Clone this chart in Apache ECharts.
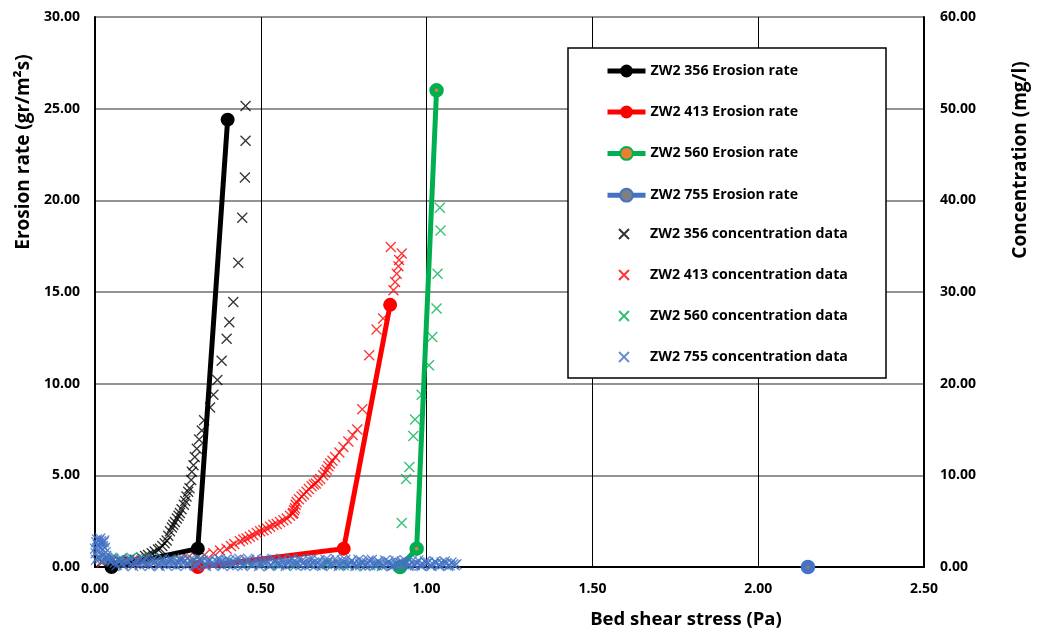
<!DOCTYPE html>
<html><head><meta charset="utf-8">
<script src="https://cdn.jsdelivr.net/npm/echarts@6/dist/echarts.min.js"></script>
<style>html,body{margin:0;padding:0;background:#fff}#c{width:1040px;height:631px}</style>
</head><body><div id="c"></div>
<script>
// ---- data ----
const xTicks = [0, 0.5, 1.0, 1.5, 2.0, 2.5];
const leftTicks = [0, 5, 10, 15, 20, 25, 30];
const rightTicks = [0, 10, 20, 30, 40, 50, 60];

// Erosion rate (gr/m2s) vs bed shear stress (Pa)
const er356 = [[0.05, 0], [0.31, 1.0], [0.40, 24.4]];
const er413 = [[0.31, 0], [0.75, 1.0], [0.89, 14.3]];
const er560 = [[0.92, 0], [0.97, 1.0], [1.03, 26.0]];
const er755 = [[2.15, 0]];

// Concentration data (mg/l) vs bed shear stress (Pa)
const c356 = [[0.02,0.6],[0.04,0.5],[0.06,0.5],[0.08,0.6],[0.10,0.7],[0.12,0.8],[0.14,1.0],[0.151,1.2],[0.16,1.3],[0.171,1.5],[0.18,1.7],[0.19,1.9],[0.196,2.0],[0.203,2.3],[0.21,2.6],[0.216,2.9],[0.221,3.4],[0.226,3.9],[0.232,4.3],[0.236,4.6],[0.241,4.9],[0.247,5.3],[0.252,5.6],[0.256,5.9],[0.261,6.3],[0.268,6.8],[0.272,7.2],[0.276,7.7],[0.281,8.2],[0.285,8.6],[0.29,9.5],[0.292,10.4],[0.297,11.1],[0.301,12.0],[0.307,12.9],[0.314,13.9],[0.322,14.9],[0.329,16.0],[0.347,17.4],[0.357,18.8],[0.369,20.4],[0.382,22.5],[0.397,24.9],[0.405,26.7],[0.417,28.9],[0.432,33.2],[0.444,38.1],[0.452,42.5],[0.454,46.5],[0.454,50.3]];
const c413 = [[0.02,0.5],[0.05,0.6],[0.08,0.5],[0.11,0.6],[0.14,0.7],[0.17,0.6],[0.20,0.7],[0.23,0.8],[0.256,0.9],[0.28,1.0],[0.307,1.1],[0.33,1.3],[0.357,1.5],[0.377,1.8],[0.397,2.0],[0.41,2.3],[0.42,2.5],[0.437,2.8],[0.447,3.0],[0.457,3.1],[0.467,3.3],[0.477,3.5],[0.488,3.7],[0.498,3.9],[0.508,4.0],[0.518,4.2],[0.528,4.4],[0.538,4.6],[0.548,4.7],[0.558,4.9],[0.568,5.1],[0.578,5.3],[0.588,5.6],[0.596,5.8],[0.598,5.9],[0.600,6.2],[0.603,6.4],[0.605,6.8],[0.608,7.1],[0.615,7.4],[0.623,7.7],[0.63,7.9],[0.638,8.2],[0.645,8.5],[0.653,8.8],[0.66,9.0],[0.666,9.1],[0.672,9.4],[0.679,9.6],[0.688,10.0],[0.694,10.3],[0.699,10.6],[0.704,11.0],[0.709,11.3],[0.716,11.6],[0.724,12.0],[0.737,12.5],[0.749,13.1],[0.764,13.7],[0.777,14.4],[0.791,15.0],[0.806,17.2],[0.827,23.1],[0.849,25.9],[0.869,27.1],[0.90,30.2],[0.905,31.1],[0.910,32.0],[0.915,32.8],[0.917,33.5],[0.925,34.2],[0.892,34.9]];
const c560 = [[0.01,1.0],[0.03,0.9],[0.05,1.0],[0.08,0.9],[0.11,1.0],[0.14,1.0],[0.17,0.9],[0.20,1.0],[0.23,0.8],[0.26,0.7],[0.30,0.7],[0.34,0.6],[0.38,0.5],[0.42,0.5],[0.46,0.4],[0.50,0.4],[0.55,0.3],[0.60,0.3],[0.65,0.3],[0.70,0.3],[0.75,0.2],[0.80,0.2],[0.85,0.2],[0.90,0.2],[0.925,4.8],[0.938,9.6],[0.948,10.9],[0.960,14.3],[0.965,16.1],[0.985,18.8],[1.007,22.0],[1.017,25.1],[1.030,28.2],[1.033,32.0],[1.042,36.7],[1.040,39.2]];
const c755spike = [[0.000,2.0],[0.002,1.5],[0.003,0.8],[0.004,2.7],[0.006,3.0],[0.008,2.4],[0.009,1.1],[0.010,1.8],[0.012,2.9],[0.014,2.2],[0.015,0.9],[0.016,3.1],[0.018,2.8],[0.020,2.6],[0.021,1.2],[0.022,1.9],[0.024,2.3],[0.026,2.7],[0.027,0.7],[0.028,2.9],[0.030,2.1],[0.032,1.6],[0.034,1.2],[0.036,1.0],[0.038,0.9]];
const c755a = [[0.04,0.8],[0.05,0.6],[0.06,0.5],[0.07,0.7],[0.08,0.4],[0.09,0.6],[0.10,0.5],[0.11,0.3],[0.12,0.4],[0.13,0.6],[0.14,0.5],[0.15,0.3],[0.16,0.4],[0.17,0.6],[0.18,0.5],[0.19,0.2],[0.20,0.4],[0.21,0.5],[0.22,0.6],[0.23,0.3],[0.24,0.4],[0.25,0.5],[0.26,0.3],[0.27,0.6],[0.28,0.4],[0.29,0.5],[0.30,0.2],[0.31,0.4],[0.32,0.6],[0.33,0.3],[0.34,0.5],[0.35,0.4],[0.36,0.3],[0.37,0.5],[0.38,0.6],[0.39,0.4],[0.40,0.3],[0.41,0.5],[0.42,0.4],[0.43,0.2],[0.44,0.5],[0.45,0.4],[0.46,0.6],[0.47,0.3],[0.48,0.4],[0.49,0.5],[0.50,0.3],[0.51,0.4],[0.52,0.6],[0.53,0.2],[0.54,0.4],[0.55,0.5],[0.56,0.3],[0.57,0.4],[0.58,0.5],[0.59,0.3],[0.60,0.6],[0.61,0.4],[0.62,0.2],[0.63,0.5],[0.64,0.4],[0.65,0.3],[0.66,0.5],[0.67,0.4],[0.68,0.2],[0.69,0.4],[0.70,0.5],[0.71,0.3],[0.72,0.4],[0.73,0.5],[0.74,0.2],[0.75,0.4],[0.76,0.3],[0.77,0.5],[0.78,0.4],[0.79,0.2],[0.80,0.3],[0.81,0.5],[0.82,0.4],[0.83,0.2],[0.84,0.3],[0.85,0.5],[0.86,0.4],[0.87,0.2],[0.88,0.3],[0.89,0.4],[0.90,0.2],[0.91,0.3],[0.92,0.5],[0.93,0.3],[0.94,0.4],[0.95,0.2],[0.96,0.3],[0.97,0.4],[0.98,0.2],[0.99,0.3],[1.00,0.4],[1.01,0.2],[1.02,0.3],[1.03,0.4],[1.04,0.2],[1.05,0.3],[1.06,0.4],[1.07,0.2],[1.08,0.3],[1.09,0.3]];
const c755b = [[0.045,0.7],[0.055,0.9],[0.065,0.2],[0.075,0.8],[0.085,0.1],[0.095,0.7],[0.105,0.9],[0.115,0.1],[0.125,0.8],[0.135,0.2],[0.145,0.7],[0.155,0.9],[0.165,0.1],[0.175,0.8],[0.185,0.7],[0.195,0.1],[0.205,0.9],[0.215,0.2],[0.225,0.8],[0.235,0.7],[0.245,0.1],[0.255,0.8],[0.265,0.9],[0.275,0.2],[0.285,0.7],[0.295,0.8],[0.305,0.1],[0.315,0.9],[0.325,0.7],[0.335,0.1],[0.345,0.8],[0.355,0.2],[0.365,0.7],[0.375,0.9],[0.385,0.1],[0.395,0.8],[0.405,0.7],[0.415,0.2],[0.425,0.8],[0.435,0.9],[0.445,0.1],[0.455,0.7],[0.465,0.8],[0.475,0.2],[0.485,0.9],[0.495,0.1],[0.505,0.7],[0.515,0.8],[0.525,0.1],[0.535,0.9],[0.545,0.7],[0.555,0.2],[0.565,0.8],[0.575,0.1],[0.585,0.7],[0.595,0.9],[0.605,0.2],[0.615,0.8],[0.625,0.7],[0.635,0.1],[0.645,0.8],[0.655,0.9],[0.665,0.2],[0.675,0.7],[0.685,0.1],[0.695,0.8],[0.705,0.7],[0.715,0.2],[0.725,0.9],[0.735,0.1],[0.745,0.7],[0.755,0.8],[0.765,0.2],[0.775,0.7],[0.785,0.1],[0.795,0.8],[0.805,0.6],[0.815,0.1],[0.825,0.7],[0.835,0.8],[0.845,0.2],[0.855,0.6],[0.865,0.1],[0.875,0.7],[0.885,0.6],[0.895,0.1],[0.905,0.7],[0.915,0.1],[0.925,0.6],[0.935,0.7],[0.945,0.1],[0.955,0.6],[0.965,0.2],[0.975,0.7],[0.985,0.1],[0.995,0.6],[1.005,0.5],[1.015,0.1],[1.025,0.6],[1.035,0.2],[1.045,0.5],[1.055,0.6],[1.065,0.1],[1.075,0.5],[1.085,0.2]];
const c755 = c755spike.concat(c755a, c755b);

const names = ['ZW2 356 Erosion rate','ZW2 413 Erosion rate','ZW2 560 Erosion rate','ZW2 755 Erosion rate',
  'ZW2 356 concentration data','ZW2 413 concentration data','ZW2 560 concentration data','ZW2 755 concentration data'];
// ---- chart ----
const FONT = 'Open Sans';
const CROSS = 'path://M0,0L10,10M10,0L0,10';
const chart = echarts.init(document.getElementById('c'), null, {renderer: 'canvas'});
function lineS(name, data, col, fill, border, bw, size) {
  return {name, type: 'line', data, yAxisIndex: 0, z: 5,
    lineStyle: {color: col, width: 5}, symbol: 'circle', symbolSize: size,
    itemStyle: {color: fill, borderColor: border, borderWidth: bw}, clip: false, animation: false};
}
function crossS(name, data, col, z) {
  return {name, type: 'scatter', data, yAxisIndex: 1, z: z, symbol: CROSS, symbolSize: 10,
    itemStyle: {color: 'rgba(0,0,0,0)', borderColor: col, borderWidth: 1.3}, animation: false};
}
const labelStyle = {fontFamily: FONT, fontWeight: 'bold', fontSize: 14, color: '#000'};
const legendText = {fontFamily: FONT, fontWeight: 'bold', fontSize: 14.2, color: '#000'};
chart.setOption({
  backgroundColor: '#fff',
  animation: false,
  grid: {left: 95, right: 116, top: 17, bottom: 64},
  xAxis: {type: 'value', min: xTicks[0], max: xTicks[xTicks.length-1], interval: 0.5,
    axisLine: {lineStyle: {color: '#000', width: 2}}, axisTick: {show: false},
    axisLabel: Object.assign({margin: 15, formatter: v => v.toFixed(2)}, labelStyle),
    splitLine: {show: true, lineStyle: {color: '#000', width: 1}}},
  yAxis: [
    {type: 'value', min: leftTicks[0], max: leftTicks[leftTicks.length-1], interval: 5,
      axisLine: {show: true, lineStyle: {color: '#000', width: 2}}, axisTick: {show: false},
      axisLabel: Object.assign({margin: 15, formatter: v => v.toFixed(2)}, labelStyle),
      splitLine: {show: true, lineStyle: {color: '#6f6f6f', width: 1.5}}},
    {type: 'value', position: 'right', min: rightTicks[0], max: rightTicks[rightTicks.length-1], interval: 10,
      axisLine: {show: true, lineStyle: {color: '#000', width: 2}}, axisTick: {show: false},
      axisLabel: Object.assign({margin: 16, formatter: v => v.toFixed(2)}, labelStyle),
      splitLine: {show: false}}
  ],
  legend: [
    {orient: 'vertical', left: 600, top: 59, itemWidth: 38, itemHeight: 16, itemGap: 27, z: 30,
      lineStyle: {width: 5}, textStyle: legendText, data: names.slice(0, 4)},
    {orient: 'vertical', left: 613, top: 222, itemWidth: 42, itemHeight: 10, itemGap: 27, z: 30,
      textStyle: legendText, data: names.slice(4)}
  ],
  graphic: [
    {type: 'rect', z: 20, shape: {x: 568, y: 48, width: 318, height: 330}, style: {fill: '#fff', stroke: '#000', lineWidth: 1.5}},
    {type: 'text', x: 24, y: 152, rotation: Math.PI/2, style: {text: 'Erosion rate (gr/m²s)', font: 'bold 19px "Open Sans"', fill: '#000', align: 'center', verticalAlign: 'middle'}},
    {type: 'text', x: 1021, y: 160, rotation: Math.PI/2, style: {text: 'Concentration (mg/l)', font: 'bold 19px "Open Sans"', fill: '#000', align: 'center', verticalAlign: 'middle'}},
    {type: 'text', x: 686, y: 620, style: {text: 'Bed shear stress (Pa)', font: 'bold 18.5px "Open Sans"', fill: '#000', align: 'center', verticalAlign: 'middle'}}
  ],
  series: [
    lineS(names[0], er356, '#000000', '#000000', '#000000', 0, 14),
    lineS(names[1], er413, '#FF0000', '#FF0000', '#FF0000', 0, 14),
    lineS(names[2], er560, '#00B050', '#ED7D31', '#00B050', 5.5, 9),
    lineS(names[3], er755, '#4472C4', '#7F7F7F', '#4472C4', 5.5, 9),
    crossS(names[4], c356, '#000000', 3),
    crossS(names[5], c413, '#FF0000', 3),
    crossS(names[6], c560, '#00B050', 3),
    crossS(names[7], c755, '#4472C4', 6)
  ]
});
</script></body></html>
